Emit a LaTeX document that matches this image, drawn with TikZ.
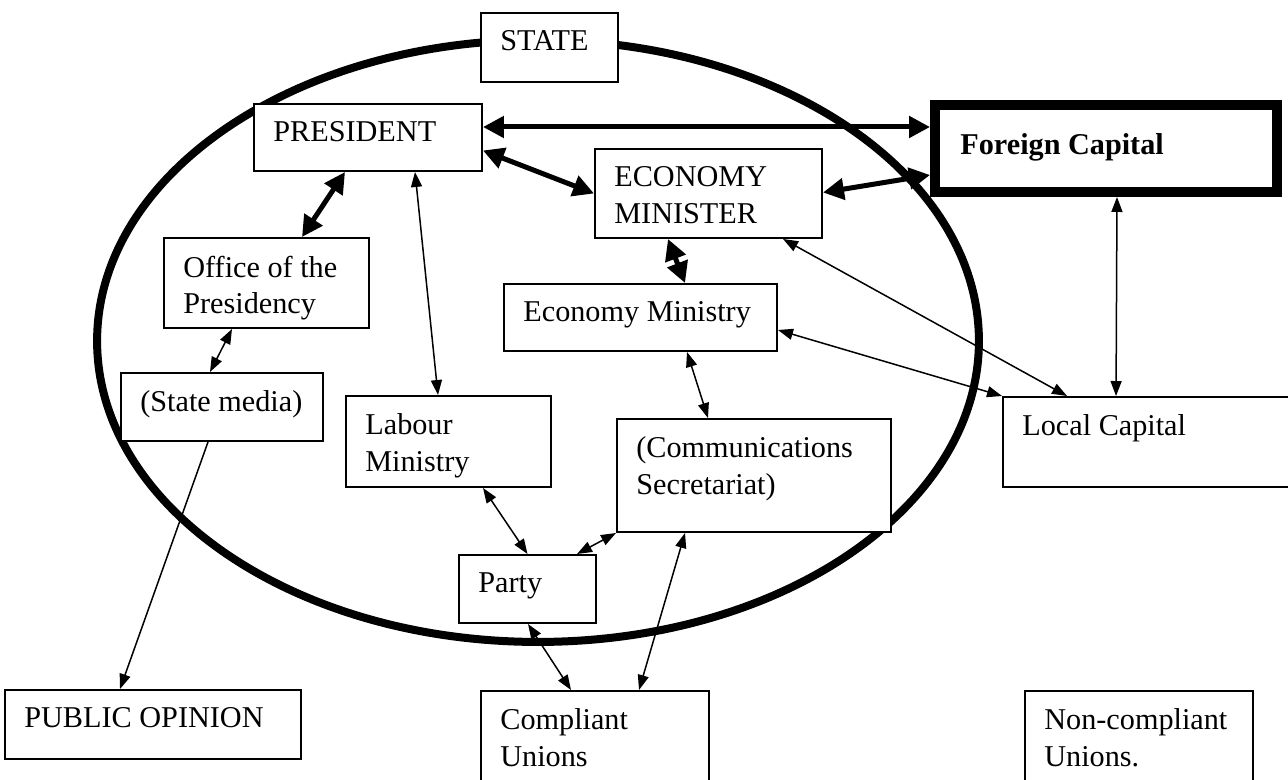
\documentclass[tikz,border=0pt]{standalone}
\usepackage{fontspec}
\setmainfont{Liberation Serif}
\usetikzlibrary{arrows.meta}

\begin{document}
\begin{tikzpicture}[
          x=0.02cm, y=-0.02cm,
          box/.style 2 args={
              draw, fill=white, line width=0.04cm, inner sep=0pt,
              minimum width=#1, minimum height=#2
            },
          txt/.style={
              anchor=north west, draw=none, fill=none, inner sep=0pt,
              minimum width=0pt, minimum height=0pt, align=left,
              xshift=0.4cm, yshift=-0.37cm,
              font=\fontsize{17.2}{20.8}\selectfont
            },
          strong/.style={
              line width=0.1cm,
              {Triangle[length=0.42cm,width=0.42cm]}-{Triangle[length=0.42cm,width=0.42cm]}
            },
          weak/.style={
              line width=0.03cm,
              {Triangle[length=0.3cm,width=0.22cm]}-{Triangle[length=0.3cm,width=0.22cm]}
            },
          oneway/.style={
              line width=0.03cm,
              -{Triangle[length=0.3cm,width=0.22cm]}
            }
        ]
        \useasboundingbox (0,0) rectangle (1288,780);

        % the state
        \draw[line width=0.16cm] (538,341) ellipse [x radius=8.82cm, y radius=6.02cm];

        % boxes
        \node[box={2.74cm}{1.38cm}, label={[txt]north west:STATE}] (state) at (549.5,47.5) {};
        \node[box={4.56cm}{1.34cm}, label={[txt]north west:PRESIDENT}] (pres) at (368,137.5) {};
        \node[box={6.84cm}{1.74cm}, line width=0.2cm,
          label={[txt,xshift=0.2cm,yshift=-0.3cm]north west:\textbf{Foreign Capital}}] (foreign) at (1106,148.5) {};
        \node[box={4.54cm}{1.78cm}, label={[txt]north west:{ECONOMY\\MINISTER}}] (ecmin) at (708.5,193.5) {};
        \node[box={4.1cm}{1.8cm}, label={[txt]north west:{Office of the\\Presidency}}] (office) at (266.5,283) {};
        \node[box={5.46cm}{1.34cm}, label={[txt]north west:Economy Ministry}] (ecmy) at (640.5,317.5) {};
        \node[box={4.04cm}{1.36cm}, label={[txt]north west:(State media)}] (media) at (222,407) {};
        \node[box={4.1cm}{1.82cm}, label={[txt]north west:{Labour\\Ministry}}] (labour) at (448.5,441.5) {};
        \node[box={5.48cm}{2.26cm}, label={[txt]north west:{(Communications\\Secretariat)}}] (comm) at (754,475.5) {};
        \node[box={6.14cm}{1.8cm}, label={[txt]north west:Local Capital}] (localc) at (1156.5,442) {};
        \node[box={2.74cm}{1.36cm}, label={[txt]north west:Party}] (party) at (527.5,589) {};
        \node[box={5.92cm}{1.38cm}, label={[txt]north west:PUBLIC OPINION}] (public) at (153,724.5) {};
        \node[box={4.56cm}{2.38cm}, label={[txt]north west:{Compliant\\Unions}}] (compliant) at (595,750.5) {};
        \node[box={4.56cm}{2.38cm}, label={[txt]north west:{Non-compliant\\Unions.}}] (noncomp) at (1139,750.5) {};

        % strong ties
        \draw[strong] ([shift={(0,-10.5)}]pres.east) -- ([shift={(0,-21.5)}]foreign.west);
        \draw[strong] ([shift={(0,13)}]pres.east) -- (ecmin.west);
        \draw[strong] ([shift={(0,26.5)}]foreign.west) -- ([shift={(0,-1)}]ecmin.east);
        \draw[strong] ([shift={(-23,0)}]pres.south) -- ([shift={(35.5,0)}]office.north);
        \draw[strong] ([shift={(-40.5,0)}]ecmin.south) -- ([shift={(44.5,0)}]ecmy.north);

        % weak ties
        \draw[weak] ([shift={(47,0)}]pres.south) -- ([shift={(-10.5,0)}]labour.north);
        \draw[weak] ([shift={(-34.5,0)}]office.south) -- ([shift={(-12,0)}]media.north);
        \draw[oneway] ([shift={(-14,0)}]media.south) -- ([shift={(-33,0)}]public.north);
        \draw[weak] ([shift={(46.5,0)}]ecmy.south) -- ([shift={(-46,0)}]comm.north);
        \draw[weak] ([shift={(65,0)}]localc.north west) -- ([shift={(74.5,0)}]ecmin.south);
        \draw[weak] (localc.north west) -- ([shift={(0,12.5)}]ecmy.east);
        \draw[weak] ([shift={(11,0)}]foreign.south) -- ([shift={(114,0)}]localc.north west);
        \draw[weak] ([shift={(34.5,0)}]labour.south) -- (party.north);
        \draw[weak] ([shift={(49.5,0)}]party.north) -- (comm.south west);
        \draw[weak] ([shift={(-69,0)}]comm.south) -- ([shift={(159,0)}]compliant.north west);
        \draw[weak] ([shift={(0.5,0)}]party.south) -- ([shift={(91,0)}]compliant.north west);

      \end{tikzpicture}
\end{document}
